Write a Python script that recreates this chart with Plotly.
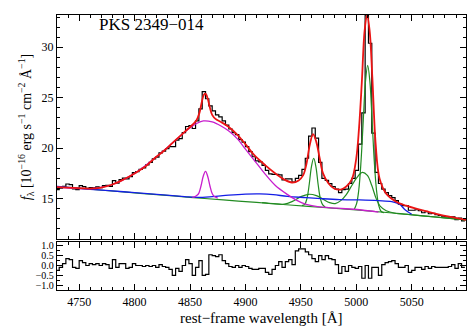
import numpy as np
import plotly.graph_objects as go

# binned spectrum (3 A bins starting at 4729 A)
bin_start = 4729.0
bin_width = 3.0
flux = [
    15.90, 16.03, 16.22, 16.45, 16.39, 15.97, 15.90, 16.29, 16.18, 16.01,
    16.10, 16.08, 16.17, 16.10, 16.28, 16.32, 16.21, 16.78, 16.53, 16.88,
    17.03, 16.96, 17.19, 17.57, 17.68, 17.89, 18.05, 18.35, 18.60, 18.95,
    19.12, 19.53, 19.70, 19.95, 20.15, 20.15, 20.80, 20.95, 21.55, 22.15,
    22.25, 21.95, 22.70, 23.90, 25.60, 24.90, 24.20, 23.70, 23.30, 23.10,
    22.70, 22.30, 21.90, 21.55, 21.35, 20.85, 20.60, 20.15, 19.65, 19.15,
    18.75, 18.65, 18.30, 17.80, 17.45, 17.40, 17.40, 17.35, 16.85, 16.95,
    16.95, 16.65, 17.00, 17.30, 17.90, 19.00, 21.20, 22.00, 21.00, 18.60,
    17.00, 16.80, 16.50, 16.20, 15.95, 15.60, 15.90, 15.95, 16.50, 17.00,
    17.80, 20.40, 23.50, 33.20, 30.40, 21.50, 17.60, 16.50, 15.95, 15.60,
    15.30, 15.10, 14.80, 14.45, 14.30, 14.30, 13.85, 13.85, 13.90, 13.80,
    13.60, 13.70, 13.50, 13.53, 13.40, 13.33, 13.26, 13.19, 13.17, 13.19,
    12.91, 13.08, 12.80]
resid = [
    -0.25, -0.10, 0.10, 0.35, 0.30, -0.10, -0.15, 0.25, 0.15, 0.00,
    0.10, 0.05, 0.10, 0.00, 0.10, 0.05, -0.15, 0.30, -0.10, 0.10,
    0.10, -0.15, -0.10, 0.10, 0.00, 0.00, -0.05, 0.00, -0.05, 0.00,
    -0.10, 0.05, -0.05, -0.10, -0.20, -0.50, -0.15, -0.30, 0.00, 0.30,
    0.10, -0.50, -0.10, 0.25, -0.50, -0.45, 0.55, 0.50, 0.45, 0.55,
    0.25, 0.10, -0.05, -0.10, 0.00, -0.10, 0.00, -0.05, -0.15, -0.20,
    -0.20, -0.15, -0.15, -0.35, -0.45, -0.20, 0.00, 0.20, -0.10, 0.20,
    0.30, 0.05, 0.75, 0.85, 0.85, 0.70, 0.55, 0.35, 0.20, 0.50,
    0.30, 0.50, 0.35, 0.30, 0.05, -0.40, -0.05, -0.30, 0.00, -0.10,
    -0.15, -0.05, -0.65, 0.00, -0.65, -0.10, -0.10, -0.50, 0.05, 0.15,
    0.20, 0.25, 0.10, -0.10, -0.10, 0.00, -0.35, -0.25, -0.10, -0.10,
    -0.20, -0.05, -0.15, -0.05, -0.10, -0.10, -0.10, -0.10, -0.05, 0.05,
    -0.15, 0.10, -0.10]

# total model (red)
lam_total = [4730, 4745, 4760, 4770, 4780, 4790, 4800, 4810, 4818, 4826, 4834, 4842,
             4848, 4853, 4856, 4858.5, 4860.5, 4862.5, 4864, 4866, 4868, 4870, 4873,
             4878, 4885, 4893, 4900, 4908, 4918, 4927, 4935, 4942, 4948, 4952, 4955,
             4958, 4961, 4964, 4967, 4970, 4975, 4980, 4986, 4991, 4996, 5000, 5002.5,
             5005, 5007.5, 5009.7, 5012, 5014.5, 5017.5, 5021, 5027, 5036, 5045, 5054,
             5063, 5072, 5085, 5099]
f_total = [16.15, 16.07, 16.0, 16.1, 16.4, 16.9, 17.5, 18.2, 19.0, 19.7, 20.5, 21.3,
           21.9, 22.4, 22.8, 23.5, 24.5, 25.3, 25.4, 24.9, 24.0, 23.3, 22.9,
           22.6, 22.1, 21.3, 20.4, 19.3, 18.3, 17.5, 16.9, 16.6, 16.8, 17.3, 18.4,
           20.3, 21.4, 20.6, 19.0, 17.5, 16.5, 16.0, 15.9, 16.2, 16.9, 19.0, 22.0,
           26.5, 31.6, 33.2, 31.7, 27.0, 20.4, 17.0, 15.5, 14.7, 14.3, 14.0,
           13.75, 13.5, 13.2, 12.9]

# continuum + Fe II (blue)
lam_feii = [4730, 4760, 4790, 4820, 4845, 4857, 4870, 4885, 4900, 4913, 4925, 4938,
            4955, 4968, 4985, 5003, 5020, 5032, 5039, 5044, 5050]
f_feii = [16.2, 15.93, 15.68, 15.42, 15.2, 15.12, 15.2, 15.35, 15.45, 15.47, 15.4, 15.22,
          15.1, 15.0, 14.9, 14.87, 14.8, 14.7, 14.45, 13.9, 13.45]

# continuum + broad H-beta (magenta)
lam_hb_broad = [4730, 4760, 4780, 4800, 4818, 4834, 4848, 4855, 4862, 4870, 4878, 4885,
                4893, 4900, 4908, 4918, 4927, 4938, 4946, 4954, 4965, 4983, 5003, 5020]
f_hb_broad = [16.15, 16.0, 16.4, 17.5, 19.0, 20.5, 21.85, 22.4, 22.7, 22.6, 22.2, 21.7,
              20.9, 19.9, 18.8, 17.4, 16.3, 15.4, 14.85, 14.45, 14.2, 14.05, 13.9, 13.67]

# continuum + narrow H-beta (magenta)
lam_hb_narrow = [4852, 4854, 4856, 4858, 4860, 4862, 4864, 4866, 4868, 4870, 4872, 4875]
f_hb_narrow = [15.15, 15.18, 15.3, 15.55, 16.3, 17.25, 17.7, 17.2, 16.25, 15.5, 15.2, 15.05]

# power-law continuum (green)
lam_cont = [4730, 4760, 4790, 4820, 4850, 4880, 4910, 4940, 4970, 5000, 5030, 5060, 5099]
f_cont = [16.2, 15.93, 15.66, 15.4, 15.13, 14.87, 14.62, 14.37, 14.12, 13.88, 13.6, 13.3, 12.9]

# continuum + broad [O III] doublet (green)
lam_o3_broad = [4915, 4925, 4935, 4942, 4950, 4957, 4964, 4970, 4976, 4981, 4986, 4991,
                4996, 5000, 5005.5, 5010, 5014, 5018, 5022, 5027, 5035, 5045, 5060, 5080, 5099]
f_o3_broad = [14.6, 14.5, 14.45, 14.7, 15.2, 15.43, 15.3, 14.95, 14.6, 14.5, 14.8, 15.4,
              16.3, 17.0, 17.6, 17.3, 16.3, 15.0, 14.2, 13.8, 13.55, 13.45, 13.3, 13.1, 12.9]

# continuum + narrow [O III] 4959 (green)
lam_o3_4959 = [4951, 4953.6, 4955.6, 4957.6, 4959.6, 4961.6, 4963.6, 4965.6, 4967.6, 4969.6, 4972]
f_o3_4959 = [14.3, 14.45, 15.05, 16.45, 18.2, 19.0, 18.15, 16.4, 15.0, 14.4, 14.15]

# continuum + narrow [O III] 5007 (green)
lam_o3_5007 = [4998, 5000.3, 5002.3, 5004.3, 5006.3, 5008.3, 5010.3, 5012.3, 5014.3,
               5016.3, 5018.3, 5020.3, 5022.3, 5025]
f_o3_5007 = [13.9, 14.5, 15.9, 18.7, 22.7, 26.6, 28.2, 26.6, 22.7, 18.6, 15.8, 14.3, 13.75, 13.6]

x_range = [4730, 5099]
serif = "Liberation Serif"

edges = bin_start + bin_width * np.arange(len(flux) + 1)

fig = go.Figure()

fig.add_trace(go.Scatter(x=edges, y=flux + [flux[-1]], mode="lines",
                         line=dict(color="black", width=1.2, shape="hv"),
                         xaxis="x", yaxis="y"))

green = "rgb(34,139,34)"
for lam, f in [(lam_cont, f_cont), (lam_o3_broad, f_o3_broad),
               (lam_o3_4959, f_o3_4959), (lam_o3_5007, f_o3_5007)]:
    fig.add_trace(go.Scatter(x=lam, y=f, mode="lines",
                             line=dict(color=green, width=1.2, shape="spline"),
                             xaxis="x", yaxis="y"))

fig.add_trace(go.Scatter(x=lam_feii, y=f_feii, mode="lines",
                         line=dict(color="rgb(20,30,230)", width=1.3, shape="spline"),
                         xaxis="x", yaxis="y"))

magenta = "rgb(200,30,205)"
for lam, f in [(lam_hb_broad, f_hb_broad), (lam_hb_narrow, f_hb_narrow)]:
    fig.add_trace(go.Scatter(x=lam, y=f, mode="lines",
                             line=dict(color=magenta, width=1.3, shape="spline"),
                             xaxis="x", yaxis="y"))

fig.add_trace(go.Scatter(x=lam_total, y=f_total, mode="lines",
                         line=dict(color="rgb(235,20,20)", width=1.8, shape="spline"),
                         xaxis="x", yaxis="y"))

# residuals
fig.add_trace(go.Scatter(x=edges, y=resid + [resid[-1]], mode="lines",
                         line=dict(color="black", width=1.2, shape="hv"),
                         xaxis="x2", yaxis="y2"))

axis_style = dict(showline=True, linecolor="black", linewidth=1.3, mirror="allticks",
                  ticks="inside", ticklen=6, tickwidth=1.2, tickcolor="black",
                  showgrid=False, zeroline=False, automargin=False,
                  tickfont=dict(family=serif, size=12, color="black"))

# page body keeps its default 8px margin, so the figure is 8px smaller
fig.update_layout(
    width=468, height=319,
    margin=dict(l=49, r=10, t=7, b=37),
    paper_bgcolor="white", plot_bgcolor="white",
    showlegend=False,
    xaxis=dict(domain=[0, 1], range=x_range, anchor="y", showticklabels=False,
               tick0=4750, dtick=50,
               minor=dict(ticks="inside", ticklen=3, tickcolor="black", dtick=10, tick0=4750),
               **axis_style),
    yaxis=dict(domain=[0.1855, 1], range=[11, 33.2], anchor="x",
               tick0=15, dtick=5,
               minor=dict(ticks="inside", ticklen=3, tickcolor="black", dtick=1),
               title=dict(text="<i>f</i><sub>λ</sub> [10<sup>−16</sup> erg s<sup>−1</sup> "
                               "cm<sup>−2</sup> Å<sup>−1</sup>]",
                          font=dict(family=serif, size=14, color="black"), standoff=6),
               **axis_style),
    xaxis2=dict(domain=[0, 1], range=x_range, anchor="y2",
                tick0=4750, dtick=50,
                minor=dict(ticks="inside", ticklen=3, tickcolor="black", dtick=10, tick0=4750),
                **axis_style),
    yaxis2=dict(domain=[0, 0.1745], range=[-1.25, 1.2], anchor="x2",
                tickvals=[-1.0, -0.5, 0.0, 0.5, 1.0], tickformat=".1f",
                minor=dict(ticks="inside", ticklen=3, tickcolor="black", dtick=0.25),
                **{**axis_style, "tickfont": dict(family=serif, size=10, color="black")}),
)

fig.add_annotation(text="PKS 2349−014", xref="paper", yref="paper", x=0.098, y=0.965,
                   xanchor="left", yanchor="middle", showarrow=False,
                   font=dict(family=serif, size=17, color="black"))
fig.add_annotation(text="rest−frame wavelength [Å]", xref="paper", yref="paper",
                   x=0.5, y=-0.102, xanchor="center", yanchor="middle", showarrow=False,
                   font=dict(family=serif, size=15, color="black"))

fig.write_html("out.html")
